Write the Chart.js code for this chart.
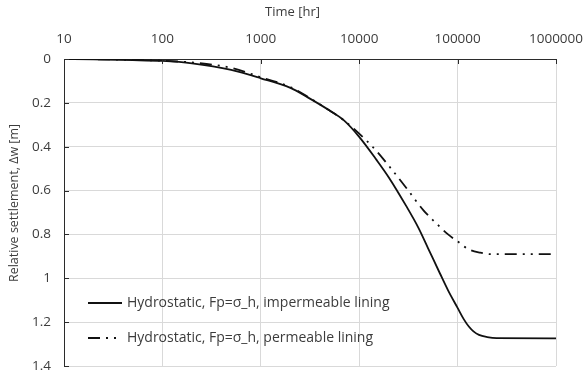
<!DOCTYPE html>
<html>
<head>
<meta charset="utf-8">
<script src="https://cdn.jsdelivr.net/npm/chart.js@4.4.1/dist/chart.umd.min.js"></script>
<style>
  html, body { margin: 0; padding: 0; background: #fff; }
  #wrap { width: 585px; height: 375px; }
</style>
</head>
<body>
<div id="wrap"><canvas id="settlement" width="585" height="375"></canvas></div>
<script>
// time axis decades [hr]
const timeTicks = [10, 100, 1000, 10000, 100000, 1000000];
const settleTicks = [0, 0.2, 0.4, 0.6, 0.8, 1, 1.2, 1.4];

// impermeable lining
const timeImperm = [10, 20, 50, 100, 200, 500, 1000, 2000, 3000, 5000, 7000, 10000, 15000, 20000,
  30000, 40000, 50000, 66000, 80000, 100000, 115000, 130000, 145000, 165000, 200000, 250000, 1000000];
const settleImperm = [0, 0.002, 0.005, 0.009, 0.02, 0.05, 0.088, 0.132, 0.175, 0.235, 0.28, 0.355, 0.46, 0.54,
  0.67, 0.77, 0.862, 0.977, 1.055, 1.135, 1.185, 1.22, 1.242, 1.258, 1.268, 1.273, 1.274];

// permeable lining
const timePerm = [10, 20, 50, 100, 200, 500, 1000, 2000, 3000, 5000, 7000, 10000, 15000, 20000,
  30000, 45000, 66000, 80000, 100000, 130000, 170000, 220000, 1000000];
const settlePerm = [0, 0.001, 0.004, 0.008, 0.016, 0.04, 0.083, 0.128, 0.172, 0.235, 0.28, 0.34, 0.42, 0.487,
  0.587, 0.69, 0.765, 0.80, 0.832, 0.868, 0.883, 0.89, 0.89];

const seriesLabels = [
  'Hydrostatic, Fp=σ_h, impermeable lining',
  'Hydrostatic, Fp=σ_h, permeable lining'
];
const xTitle = 'Time [hr]';
const yTitle = 'Relative settlement, Δw [m]';

const textColor = '#3c3c3c';
const axisColor = '#2b2b2b';
const gridColor = '#d9d9d9';
const fontFamily = '"Open Sans", "Liberation Sans", sans-serif';
const dashDotDot = [12, 6, 2, 6, 2, 6];

const toPoints = (xs, ys) => xs.map((x, i) => ({ x: x, y: ys[i] }));

// axis titles, placed relative to the whole canvas
const axisTitles = {
  id: 'axisTitles',
  afterDraw(chart) {
    const ctx = chart.ctx;
    ctx.save();
    ctx.fillStyle = textColor;
    ctx.font = '13px ' + fontFamily;
    ctx.textAlign = 'center';
    ctx.textBaseline = 'middle';
    ctx.fillText(xTitle, chart.width / 2, 12);
    ctx.translate(14, 203);
    ctx.rotate(-Math.PI / 2);
    ctx.font = '12.5px ' + fontFamily;
    ctx.fillText(yTitle, 0, 0);
    ctx.restore();
  }
};

// legend sits inside the plot, bottom left
const insideLegend = {
  id: 'insideLegend',
  afterDatasetsDraw(chart) {
    const ctx = chart.ctx;
    const area = chart.chartArea;
    const rows = [area.bottom - 63, area.bottom - 28];
    ctx.save();
    chart.data.datasets.forEach((ds, i) => {
      const y = rows[i];
      const x0 = area.left + 24;
      ctx.strokeStyle = ds.borderColor;
      ctx.lineWidth = ds.borderWidth;
      ctx.setLineDash(ds.borderDash || []);
      ctx.beginPath();
      ctx.moveTo(x0, y);
      ctx.lineTo(x0 + 34, y);
      ctx.stroke();
      ctx.setLineDash([]);
      ctx.fillStyle = textColor;
      ctx.font = '14px ' + fontFamily;
      ctx.textBaseline = 'middle';
      ctx.textAlign = 'left';
      ctx.fillText(ds.label, x0 + 39, y);
    });
    ctx.restore();
  }
};

// small inward tick marks on the top and left axes
const innerTicks = {
  id: 'innerTicks',
  afterDraw(chart) {
    const ctx = chart.ctx;
    const area = chart.chartArea;
    const xs = chart.scales.x;
    const ys = chart.scales.y;
    ctx.save();
    ctx.strokeStyle = axisColor;
    ctx.lineWidth = 1;
    ctx.beginPath();
    timeTicks.forEach(v => {
      const px = Math.round(xs.getPixelForValue(v)) + 0.5;
      ctx.moveTo(px, area.top);
      ctx.lineTo(px, area.top + 5);
    });
    settleTicks.forEach(v => {
      const py = Math.round(ys.getPixelForValue(v)) + 0.5;
      ctx.moveTo(area.left, py);
      ctx.lineTo(area.left + 5, py);
    });
    ctx.stroke();
    ctx.restore();
  }
};

new Chart(document.getElementById('settlement'), {
  type: 'line',
  data: {
    datasets: [
      {
        label: seriesLabels[0],
        data: toPoints(timeImperm, settleImperm),
        borderColor: '#111111',
        borderWidth: 1.8,
        pointRadius: 0,
        cubicInterpolationMode: 'monotone',
        fill: false
      },
      {
        label: seriesLabels[1],
        data: toPoints(timePerm, settlePerm),
        borderColor: '#111111',
        borderWidth: 1.8,
        borderDash: dashDotDot,
        pointRadius: 0,
        cubicInterpolationMode: 'monotone',
        fill: false
      }
    ]
  },
  options: {
    responsive: false,
    animation: false,
    layout: { padding: { left: 0, right: 29, top: 0, bottom: 9 } },
    plugins: {
      legend: { display: false },
      tooltip: { enabled: false }
    },
    scales: {
      x: {
        type: 'logarithmic',
        position: 'top',
        min: 10,
        max: 1000000,
        afterBuildTicks: scale => { scale.ticks = timeTicks.map(v => ({ value: v })); },
        afterFit: scale => {
          scale.height = 59;
          scale.paddingLeft = 0;
          scale.paddingRight = 0;
        },
        ticks: {
          color: textColor,
          font: { family: fontFamily, size: 13.5 },
          padding: 12,
          maxRotation: 0,
          autoSkip: false,
          callback: v => String(v)
        },
        grid: { color: gridColor, lineWidth: 1, drawTicks: false },
        border: { color: axisColor, width: 1 }
      },
      y: {
        reverse: true,
        min: 0,
        max: 1.4,
        afterBuildTicks: scale => { scale.ticks = settleTicks.map(v => ({ value: v })); },
        afterFit: scale => {
          scale.width = 64;
          scale.paddingTop = 0;
          scale.paddingBottom = 0;
        },
        ticks: {
          color: textColor,
          font: { family: fontFamily, size: 13.5 },
          padding: 13,
          callback: v => String(Number(v.toFixed(1)))
        },
        grid: { color: gridColor, lineWidth: 1, drawTicks: false },
        border: { color: axisColor, width: 1 }
      }
    }
  },
  plugins: [insideLegend, innerTicks, axisTitles]
});
</script>
</body>
</html>
